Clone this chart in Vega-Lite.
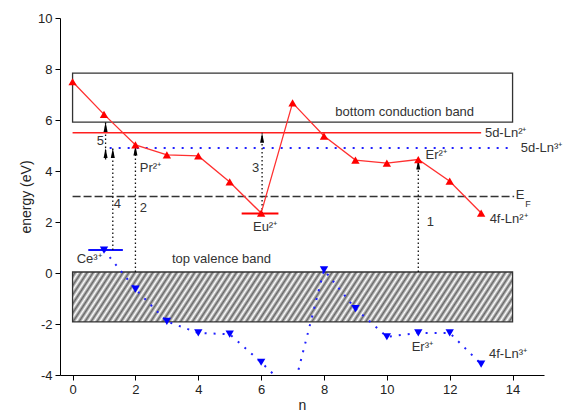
{
  "$schema": "https://vega.github.io/schema/vega-lite/v6.json",
  "width": 484,
  "height": 357,
  "autosize": {"type": "none"},
  "padding": {"left": 60, "top": 18, "right": 21, "bottom": 37},
  "config": {
    "view": {"stroke": null},
    "font": "Liberation Sans",
    "axis": {"grid": false, "domainColor": "#000", "tickColor": "#000", "labelColor": "#222", "titleColor": "#222", "labelFontSize": 13, "titleFontSize": 14, "titleFontWeight": "normal", "labelFont": "Liberation Sans", "titleFont": "Liberation Sans", "labelOverlap": false, "labelFlush": false}
  },
  "datasets": {
    "ln2": [
      {"n": 0, "e": 7.5}, {"n": 1, "e": 6.22}, {"n": 2, "e": 5.02}, {"n": 3, "e": 4.63},
      {"n": 4, "e": 4.59}, {"n": 5, "e": 3.57}, {"n": 6, "e": 2.35}, {"n": 7, "e": 6.67},
      {"n": 8, "e": 5.37}, {"n": 9, "e": 4.43}, {"n": 10, "e": 4.31}, {"n": 11, "e": 4.45},
      {"n": 12, "e": 3.6}, {"n": 13, "e": 2.35}
    ],
    "ln3": [
      {"n": 1, "e": 0.9}, {"n": 2, "e": -0.63}, {"n": 3, "e": -1.9}, {"n": 4, "e": -2.35},
      {"n": 5, "e": -2.4}, {"n": 6, "e": -3.5}, {"n": 7, "e": -4.7}, {"n": 8, "e": 0.12},
      {"n": 9, "e": -1.4}, {"n": 10, "e": -2.5}, {"n": 11, "e": -2.35}, {"n": 12, "e": -2.35},
      {"n": 13, "e": -3.57}
    ],
    "bands": [
      {"name": "cb", "x1": 0, "x2": 14, "y1": 5.92, "y2": 7.84},
      {"name": "vb", "x1": 0, "x2": 14, "y1": -1.92, "y2": 0.04}
    ],
    "levels": [
      {"id": "5d2", "x1": 0, "x2": 13, "y": 5.5},
      {"id": "5d3", "x1": 1.18, "x2": 14.04, "y": 4.9},
      {"id": "ef", "x1": 0, "x2": 14.05, "y": 3.0},
      {"id": "eu", "x1": 5.38, "x2": 6.55, "y": 2.33},
      {"id": "ce", "x1": 0.5, "x2": 1.6, "y": 0.9}
    ],
    "arrows": [
      {"n": 1.05, "y1": 4.9, "y2": 5.92},
      {"n": 1.05, "y1": 4.45, "y2": 4.9},
      {"n": 1.28, "y1": 0.9, "y2": 4.9},
      {"n": 2, "y1": 0.04, "y2": 5.0},
      {"n": 6.03, "y1": 2.33, "y2": 5.5},
      {"n": 11, "y1": 0.04, "y2": 4.45}
    ],
    "labels": [
      {"t": "bottom conduction band", "x": 8.36, "y": 6.32},
      {"t": "top valence band", "x": 3.16, "y": 0.55},
      {"t": "5d-Ln²⁺", "x": 13.12, "y": 5.5},
      {"t": "5d-Ln³⁺", "x": 14.26, "y": 4.9},
      {"t": "4f-Ln²⁺", "x": 13.27, "y": 2.1},
      {"t": "4f-Ln³⁺", "x": 13.25, "y": -3.18},
      {"t": "Er²⁺", "x": 11.23, "y": 4.63},
      {"t": "Er³⁺", "x": 10.79, "y": -2.9},
      {"t": "Pr²⁺", "x": 2.14, "y": 4.12},
      {"t": "Eu²⁺", "x": 5.74, "y": 1.8},
      {"t": "Ce³⁺", "x": 0.13, "y": 0.55},
      {"t": "5", "x": 0.77, "y": 5.18},
      {"t": "4", "x": 1.31, "y": 2.7},
      {"t": "2", "x": 2.14, "y": 2.55},
      {"t": "3", "x": 5.71, "y": 4.1},
      {"t": "1", "x": 11.27, "y": 2.0},
      {"t": "E", "x": 14.1, "y": 3.05}
    ],
    "subs": [{"t": "F", "x": 14.4, "y": 2.72}]
  },
  "layer": [
    {
      "data": {"name": "bands"},
      "transform": [{"filter": "datum.name == 'vb'"}],
      "mark": {"type": "rect", "stroke": "#333", "strokeWidth": 1.3,
        "fill": {"gradient": "linear", "x1": 0, "y1": 0, "x2": 1.08, "y2": 0.08, "stops": [
          {"offset": 0, "color": "#fff"}, {"offset": 0.00625, "color": "#666"}, {"offset": 0.0125, "color": "#fff"}, {"offset": 0.01875, "color": "#666"},
          {"offset": 0.025, "color": "#fff"}, {"offset": 0.03125, "color": "#666"}, {"offset": 0.0375, "color": "#fff"}, {"offset": 0.04375, "color": "#666"},
          {"offset": 0.05, "color": "#fff"}, {"offset": 0.05625, "color": "#666"}, {"offset": 0.0625, "color": "#fff"}, {"offset": 0.06875, "color": "#666"},
          {"offset": 0.075, "color": "#fff"}, {"offset": 0.08125, "color": "#666"}, {"offset": 0.0875, "color": "#fff"}, {"offset": 0.09375, "color": "#666"},
          {"offset": 0.1, "color": "#fff"}, {"offset": 0.10625, "color": "#666"}, {"offset": 0.1125, "color": "#fff"}, {"offset": 0.11875, "color": "#666"},
          {"offset": 0.125, "color": "#fff"}, {"offset": 0.13125, "color": "#666"}, {"offset": 0.1375, "color": "#fff"}, {"offset": 0.14375, "color": "#666"},
          {"offset": 0.15, "color": "#fff"}, {"offset": 0.15625, "color": "#666"}, {"offset": 0.1625, "color": "#fff"}, {"offset": 0.16875, "color": "#666"},
          {"offset": 0.175, "color": "#fff"}, {"offset": 0.18125, "color": "#666"}, {"offset": 0.1875, "color": "#fff"}, {"offset": 0.19375, "color": "#666"},
          {"offset": 0.2, "color": "#fff"}, {"offset": 0.20625, "color": "#666"}, {"offset": 0.2125, "color": "#fff"}, {"offset": 0.21875, "color": "#666"},
          {"offset": 0.225, "color": "#fff"}, {"offset": 0.23125, "color": "#666"}, {"offset": 0.2375, "color": "#fff"}, {"offset": 0.24375, "color": "#666"},
          {"offset": 0.25, "color": "#fff"}, {"offset": 0.25625, "color": "#666"}, {"offset": 0.2625, "color": "#fff"}, {"offset": 0.26875, "color": "#666"},
          {"offset": 0.275, "color": "#fff"}, {"offset": 0.28125, "color": "#666"}, {"offset": 0.2875, "color": "#fff"}, {"offset": 0.29375, "color": "#666"},
          {"offset": 0.3, "color": "#fff"}, {"offset": 0.30625, "color": "#666"}, {"offset": 0.3125, "color": "#fff"}, {"offset": 0.31875, "color": "#666"},
          {"offset": 0.325, "color": "#fff"}, {"offset": 0.33125, "color": "#666"}, {"offset": 0.3375, "color": "#fff"}, {"offset": 0.34375, "color": "#666"},
          {"offset": 0.35, "color": "#fff"}, {"offset": 0.35625, "color": "#666"}, {"offset": 0.3625, "color": "#fff"}, {"offset": 0.36875, "color": "#666"},
          {"offset": 0.375, "color": "#fff"}, {"offset": 0.38125, "color": "#666"}, {"offset": 0.3875, "color": "#fff"}, {"offset": 0.39375, "color": "#666"},
          {"offset": 0.4, "color": "#fff"}, {"offset": 0.40625, "color": "#666"}, {"offset": 0.4125, "color": "#fff"}, {"offset": 0.41875, "color": "#666"},
          {"offset": 0.425, "color": "#fff"}, {"offset": 0.43125, "color": "#666"}, {"offset": 0.4375, "color": "#fff"}, {"offset": 0.44375, "color": "#666"},
          {"offset": 0.45, "color": "#fff"}, {"offset": 0.45625, "color": "#666"}, {"offset": 0.4625, "color": "#fff"}, {"offset": 0.46875, "color": "#666"},
          {"offset": 0.475, "color": "#fff"}, {"offset": 0.48125, "color": "#666"}, {"offset": 0.4875, "color": "#fff"}, {"offset": 0.49375, "color": "#666"},
          {"offset": 0.5, "color": "#fff"}, {"offset": 0.50625, "color": "#666"}, {"offset": 0.5125, "color": "#fff"}, {"offset": 0.51875, "color": "#666"},
          {"offset": 0.525, "color": "#fff"}, {"offset": 0.53125, "color": "#666"}, {"offset": 0.5375, "color": "#fff"}, {"offset": 0.54375, "color": "#666"},
          {"offset": 0.55, "color": "#fff"}, {"offset": 0.55625, "color": "#666"}, {"offset": 0.5625, "color": "#fff"}, {"offset": 0.56875, "color": "#666"},
          {"offset": 0.575, "color": "#fff"}, {"offset": 0.58125, "color": "#666"}, {"offset": 0.5875, "color": "#fff"}, {"offset": 0.59375, "color": "#666"},
          {"offset": 0.6, "color": "#fff"}, {"offset": 0.60625, "color": "#666"}, {"offset": 0.6125, "color": "#fff"}, {"offset": 0.61875, "color": "#666"},
          {"offset": 0.625, "color": "#fff"}, {"offset": 0.63125, "color": "#666"}, {"offset": 0.6375, "color": "#fff"}, {"offset": 0.64375, "color": "#666"},
          {"offset": 0.65, "color": "#fff"}, {"offset": 0.65625, "color": "#666"}, {"offset": 0.6625, "color": "#fff"}, {"offset": 0.66875, "color": "#666"},
          {"offset": 0.675, "color": "#fff"}, {"offset": 0.68125, "color": "#666"}, {"offset": 0.6875, "color": "#fff"}, {"offset": 0.69375, "color": "#666"},
          {"offset": 0.7, "color": "#fff"}, {"offset": 0.70625, "color": "#666"}, {"offset": 0.7125, "color": "#fff"}, {"offset": 0.71875, "color": "#666"},
          {"offset": 0.725, "color": "#fff"}, {"offset": 0.73125, "color": "#666"}, {"offset": 0.7375, "color": "#fff"}, {"offset": 0.74375, "color": "#666"},
          {"offset": 0.75, "color": "#fff"}, {"offset": 0.75625, "color": "#666"}, {"offset": 0.7625, "color": "#fff"}, {"offset": 0.76875, "color": "#666"},
          {"offset": 0.775, "color": "#fff"}, {"offset": 0.78125, "color": "#666"}, {"offset": 0.7875, "color": "#fff"}, {"offset": 0.79375, "color": "#666"},
          {"offset": 0.8, "color": "#fff"}, {"offset": 0.80625, "color": "#666"}, {"offset": 0.8125, "color": "#fff"}, {"offset": 0.81875, "color": "#666"},
          {"offset": 0.825, "color": "#fff"}, {"offset": 0.83125, "color": "#666"}, {"offset": 0.8375, "color": "#fff"}, {"offset": 0.84375, "color": "#666"},
          {"offset": 0.85, "color": "#fff"}, {"offset": 0.85625, "color": "#666"}, {"offset": 0.8625, "color": "#fff"}, {"offset": 0.86875, "color": "#666"},
          {"offset": 0.875, "color": "#fff"}, {"offset": 0.88125, "color": "#666"}, {"offset": 0.8875, "color": "#fff"}, {"offset": 0.89375, "color": "#666"},
          {"offset": 0.9, "color": "#fff"}, {"offset": 0.90625, "color": "#666"}, {"offset": 0.9125, "color": "#fff"}, {"offset": 0.91875, "color": "#666"},
          {"offset": 0.925, "color": "#fff"}, {"offset": 0.93125, "color": "#666"}, {"offset": 0.9375, "color": "#fff"}, {"offset": 0.94375, "color": "#666"},
          {"offset": 0.95, "color": "#fff"}, {"offset": 0.95625, "color": "#666"}, {"offset": 0.9625, "color": "#fff"}, {"offset": 0.96875, "color": "#666"},
          {"offset": 0.975, "color": "#fff"}, {"offset": 0.98125, "color": "#666"}, {"offset": 0.9875, "color": "#fff"}, {"offset": 0.99375, "color": "#666"},
          {"offset": 1, "color": "#fff"}
        ]}},
      "encoding": {
        "x": {"field": "x1", "type": "quantitative", "scale": {"domain": [-0.4, 15], "nice": false, "zero": false},
          "axis": {"title": "n", "values": [0,1,2,3,4,5,6,7,8,9,10,11,12,13,14,15], "tickSize": 5, "labelPadding": 3, "titlePadding": 2, "labelOverlap": false}},
        "x2": {"field": "x2"},
        "y": {"field": "y1", "type": "quantitative", "scale": {"domain": [-4, 10], "nice": false, "zero": false},
          "axis": {"title": "energy (eV)", "values": [-4,-3,-2,-1,0,1,2,3,4,5,6,7,8,9,10], "labelExpr": "toString(datum.value)", "tickSize": 5, "labelPadding": 3, "titlePadding": 4, "labelOverlap": false}},
        "y2": {"field": "y2"}
      }
    },
    {
      "data": {"name": "bands"},
      "transform": [{"filter": "datum.name == 'cb'"}],
      "mark": {"type": "rect", "stroke": "#333", "strokeWidth": 1.3, "fillOpacity": 0},
      "encoding": {
        "x": {"field": "x1", "type": "quantitative"}, "x2": {"field": "x2"},
        "y": {"field": "y1", "type": "quantitative"}, "y2": {"field": "y2"}
      }
    },
    {
      "data": {"name": "levels"},
      "transform": [{"filter": "datum.id == '5d2'"}],
      "mark": {"type": "rule", "color": "#ff2020", "strokeWidth": 1.4},
      "encoding": {"x": {"field": "x1", "type": "quantitative"}, "x2": {"field": "x2"}, "y": {"field": "y", "type": "quantitative"}}
    },
    {
      "data": {"name": "levels"},
      "transform": [{"filter": "datum.id == 'eu'"}],
      "mark": {"type": "rule", "color": "#ff0000", "strokeWidth": 2},
      "encoding": {"x": {"field": "x1", "type": "quantitative"}, "x2": {"field": "x2"}, "y": {"field": "y", "type": "quantitative"}}
    },
    {
      "data": {"name": "levels"},
      "transform": [{"filter": "datum.id == '5d3'"}],
      "mark": {"type": "rule", "color": "#2020ff", "strokeWidth": 2, "strokeDash": [2, 7]},
      "encoding": {"x": {"field": "x1", "type": "quantitative"}, "x2": {"field": "x2"}, "y": {"field": "y", "type": "quantitative"}}
    },
    {
      "data": {"name": "levels"},
      "transform": [{"filter": "datum.id == 'ef'"}],
      "mark": {"type": "rule", "color": "#333", "strokeWidth": 1.5, "strokeDash": [8, 3]},
      "encoding": {"x": {"field": "x1", "type": "quantitative"}, "x2": {"field": "x2"}, "y": {"field": "y", "type": "quantitative"}}
    },
    {
      "data": {"name": "levels"},
      "transform": [{"filter": "datum.id == 'ce'"}],
      "mark": {"type": "rule", "color": "#1010ff", "strokeWidth": 2},
      "encoding": {"x": {"field": "x1", "type": "quantitative"}, "x2": {"field": "x2"}, "y": {"field": "y", "type": "quantitative"}}
    },
    {
      "data": {"name": "arrows"},
      "mark": {"type": "rule", "color": "#111", "strokeWidth": 1.3, "strokeDash": [1.5, 2.5]},
      "encoding": {"x": {"field": "n", "type": "quantitative"}, "y": {"field": "y1", "type": "quantitative"}, "y2": {"field": "y2"}}
    },
    {
      "data": {"name": "arrows"},
      "mark": {"type": "point", "shape": "M0,-1L0.4,1L-0.4,1Z", "filled": true, "color": "#000", "opacity": 1, "size": 100, "yOffset": 5},
      "encoding": {"x": {"field": "n", "type": "quantitative"}, "y": {"field": "y2", "type": "quantitative"}}
    },
    {
      "data": {"name": "ln2"},
      "mark": {"type": "line", "color": "#ff3030", "strokeWidth": 1.3},
      "encoding": {"x": {"field": "n", "type": "quantitative"}, "y": {"field": "e", "type": "quantitative"}}
    },
    {
      "data": {"name": "ln2"},
      "mark": {"type": "point", "shape": "triangle-up", "filled": true, "color": "#ff0000", "opacity": 1, "size": 70},
      "encoding": {"x": {"field": "n", "type": "quantitative"}, "y": {"field": "e", "type": "quantitative"}}
    },
    {
      "data": {"name": "ln3"},
      "mark": {"type": "line", "color": "#2020ff", "strokeWidth": 2, "strokeDash": [2, 7], "clip": true},
      "encoding": {"x": {"field": "n", "type": "quantitative"}, "y": {"field": "e", "type": "quantitative"}}
    },
    {
      "data": {"name": "ln3"},
      "mark": {"type": "point", "shape": "triangle-down", "filled": true, "color": "#0000ff", "opacity": 1, "size": 70, "clip": true},
      "encoding": {"x": {"field": "n", "type": "quantitative"}, "y": {"field": "e", "type": "quantitative"}}
    },
    {
      "data": {"name": "labels"},
      "mark": {"type": "text", "align": "left", "baseline": "middle", "font": "Liberation Sans", "fontSize": 13, "color": "#333"},
      "encoding": {"x": {"field": "x", "type": "quantitative"}, "y": {"field": "y", "type": "quantitative"}, "text": {"field": "t"}}
    },
    {
      "data": {"name": "subs"},
      "mark": {"type": "text", "align": "left", "baseline": "middle", "font": "Liberation Sans", "fontSize": 9, "color": "#333"},
      "encoding": {"x": {"field": "x", "type": "quantitative"}, "y": {"field": "y", "type": "quantitative"}, "text": {"field": "t"}}
    }
  ]
}
